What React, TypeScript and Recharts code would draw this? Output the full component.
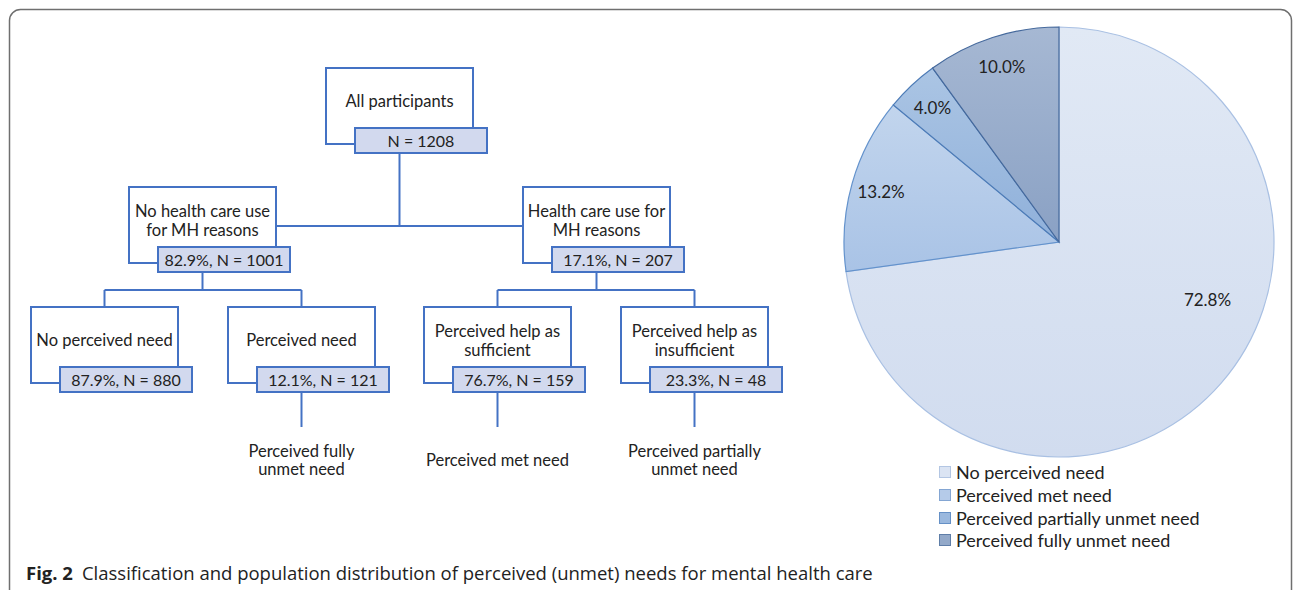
import React from "react";
import { PieChart, Pie, Cell, Legend } from "recharts";

// pie: share of participants by perceived need category
const categories = [
  "No perceived need",
  "Perceived met need",
  "Perceived partially unmet need",
  "Perceived fully unmet need",
];
const shares = [72.8, 13.2, 4.0, 10.0];

// flowchart nodes
const nodeTitles = [
  ["All participants"],
  ["No health care use", "for MH reasons"],
  ["Health care use for", "MH reasons"],
  ["No perceived need"],
  ["Perceived need"],
  ["Perceived help as", "sufficient"],
  ["Perceived help as", "insufficient"],
];
const nodePercents: (number | null)[] = [null, 82.9, 17.1, 87.9, 12.1, 76.7, 23.3];
const nodeCounts = [1208, 1001, 207, 880, 121, 159, 48];
// outcome under nodes 4, 5, 6
const outcomeLabels = [
  ["Perceived fully", "unmet need"],
  ["Perceived met need"],
  ["Perceived partially", "unmet need"],
];

const sliceTop = ["#e1e9f5", "#c2d5ed", "#abc5e4", "#a6b8d3"];
const sliceBottom = ["#d1dcef", "#a9c3e6", "#8fb0da", "#8aa1c4"];
const sliceStroke = ["#a9c0e3", "#6392cc", "#4d7bb6", "#45699c"];
const legendFill = ["#dbe4f3", "#b5cbe9", "#9ab8de", "#93a9c9"];
const legendBorder = ["#b3c6e3", "#84a6d3", "#6590c6", "#5f7ea8"];

const pieData = categories.map((name, i) => ({ name, value: shares[i] }));

const BLUE = "#4472c4";
const FONT = "Lato, 'Open Sans', sans-serif";

// layout of the flowchart (outer box top-left corners)
const boxPos = [
  [326, 68],
  [129, 187],
  [523, 187],
  [31, 307],
  [228, 307],
  [424, 307],
  [621, 307],
];
const OW = 147;
const OH = 76;
const IX = 29;
const IY = 60;
const IW = 132;
const IH = 25;

const RADIAN = Math.PI / 180;

function renderLabel(props: any) {
  const { cx, cy, midAngle, outerRadius, value, percent } = props;
  // large slice label sits nearer the rim, like the best-fit placement
  const big = percent > 0.5;
  const angle = big ? midAngle + 20 : midAngle;
  const r = outerRadius * (big ? 0.74 : 0.86);
  const x = cx + r * Math.cos(-angle * RADIAN);
  const y = cy + r * Math.sin(-angle * RADIAN);
  return (
    <text
      x={x}
      y={y}
      textAnchor="middle"
      dominantBaseline="central"
      fill="#222"
      fontSize={17}
      fontFamily={FONT}
    >
      {`${Number(value).toFixed(1)}%`}
    </text>
  );
}

function renderLegend() {
  return (
    <div style={{ fontFamily: FONT, fontSize: 18, color: "#222" }}>
      {categories.map((name, i) => (
        <div key={name} style={{ display: "flex", alignItems: "center", height: 22.7 }}>
          <span
            style={{
              display: "inline-block",
              width: 10,
              height: 10,
              background: legendFill[i],
              border: `1px solid ${legendBorder[i]}`,
              marginRight: 5,
            }}
          />
          <span>{name}</span>
        </div>
      ))}
    </div>
  );
}

function Flowchart() {
  const center = (i: number) => boxPos[i][0] + OW / 2;
  const innerBottom = (i: number) => boxPos[i][1] + IY + IH;
  const line = (x1: number, y1: number, x2: number, y2: number, k: string) => (
    <line key={k} x1={x1} y1={y1} x2={x2} y2={y2} stroke={BLUE} strokeWidth={2} />
  );
  const lines = [
    // level 1
    line(center(0), innerBottom(0), center(0), 226, "a1"),
    line(boxPos[1][0] + OW, 226, boxPos[2][0], 226, "a2"),
    // level 2 left
    line(center(1), innerBottom(1), center(1), 290, "b1"),
    line(center(3), 290, center(4), 290, "b2"),
    line(center(3), 290, center(3), boxPos[3][1], "b3"),
    line(center(4), 290, center(4), boxPos[4][1], "b4"),
    // level 2 right
    line(center(2), innerBottom(2), center(2), 290, "c1"),
    line(center(5), 290, center(6), 290, "c2"),
    line(center(5), 290, center(5), boxPos[5][1], "c3"),
    line(center(6), 290, center(6), boxPos[6][1], "c4"),
    // to outcomes
    ...[4, 5, 6].map((n) => line(center(n), innerBottom(n), center(n), 427, `d${n}`)),
  ];

  return (
    <svg
      width={1295}
      height={590}
      style={{ position: "absolute", left: 0, top: 0 }}
      fontFamily={FONT}
    >
      {lines}
      {nodeTitles.map((title, i) => {
        const [x, y] = boxPos[i];
        const pct = nodePercents[i];
        const stat = pct === null ? `N = ${nodeCounts[i]}` : `${pct.toFixed(1)}%, N = ${nodeCounts[i]}`;
        const ty = title.length === 1 ? [y + 33] : [y + 24, y + 43];
        return (
          <g key={i}>
            <rect x={x} y={y} width={OW} height={OH} fill="#fff" stroke={BLUE} strokeWidth={2} />
            {title.map((t, j) => (
              <text
                key={j}
                x={x + OW / 2}
                y={ty[j]}
                textAnchor="middle"
                dominantBaseline="central"
                fontSize={16.5}
                fill="#222"
              >
                {t}
              </text>
            ))}
            <rect
              x={x + IX}
              y={y + IY}
              width={IW}
              height={IH}
              fill="#d2d9ee"
              stroke={BLUE}
              strokeWidth={2}
            />
            <text
              x={x + IX + IW / 2}
              y={y + IY + IH / 2}
              textAnchor="middle"
              dominantBaseline="central"
              fontSize={16}
              fill="#222"
            >
              {stat}
            </text>
          </g>
        );
      })}
      {outcomeLabels.map((lab, k) => {
        const n = 4 + k;
        const ys = lab.length === 1 ? [460] : [451, 469];
        return lab.map((t, j) => (
          <text
            key={`${k}-${j}`}
            x={center(n)}
            y={ys[j]}
            textAnchor="middle"
            dominantBaseline="central"
            fontSize={16.5}
            fill="#222"
          >
            {t}
          </text>
        ));
      })}
    </svg>
  );
}

export default function App() {
  return (
    <div
      style={{
        position: "absolute",
        left: 0,
        top: 0,
        width: 1295,
        height: 590,
        overflow: "hidden",
        background: "#fff",
      }}
    >
      <svg width={1295} height={590} style={{ position: "absolute", left: 0, top: 0 }}>
        <rect
          x={9.5}
          y={9.5}
          width={1282}
          height={640}
          rx={11}
          fill="none"
          stroke="#6f6f6f"
          strokeWidth={1.5}
        />
      </svg>
      <Flowchart />
      <div style={{ position: "absolute", left: 0, top: 0 }}>
        <PieChart width={1295} height={590} margin={{ top: 0, right: 0, bottom: 0, left: 0 }}>
          <defs>
            {categories.map((c, i) => (
              <linearGradient key={c} id={`slice${i}`} x1="0" y1="0" x2="0" y2="1">
                <stop offset="0%" stopColor={sliceTop[i]} />
                <stop offset="100%" stopColor={sliceBottom[i]} />
              </linearGradient>
            ))}
          </defs>
          <Pie
            data={pieData}
            dataKey="value"
            nameKey="name"
            cx={1059}
            cy={242}
            outerRadius={215}
            startAngle={90}
            endAngle={-270}
            label={renderLabel}
            labelLine={false}
            isAnimationActive={false}
          >
            {pieData.map((d, i) => (
              <Cell key={d.name} fill={`url(#slice${i})`} stroke={sliceStroke[i]} strokeWidth={1.2} />
            ))}
          </Pie>
          <Legend
            layout="horizontal"
            verticalAlign="bottom"
            align="center"
            content={renderLegend}
            wrapperStyle={{ position: "absolute", left: 939, top: 461, bottom: "auto", width: 320 }}
          />
        </PieChart>
      </div>
      <div
        style={{
          position: "absolute",
          left: 26,
          top: 560,
          fontFamily: "'Open Sans', sans-serif",
          fontSize: 18.5,
          color: "#222",
          whiteSpace: "nowrap",
        }}
      >
        <b>Fig. 2</b>
        <span style={{ marginLeft: 9 }}>
          Classification and population distribution of perceived (unmet) needs for mental health care
        </span>
      </div>
    </div>
  );
}
